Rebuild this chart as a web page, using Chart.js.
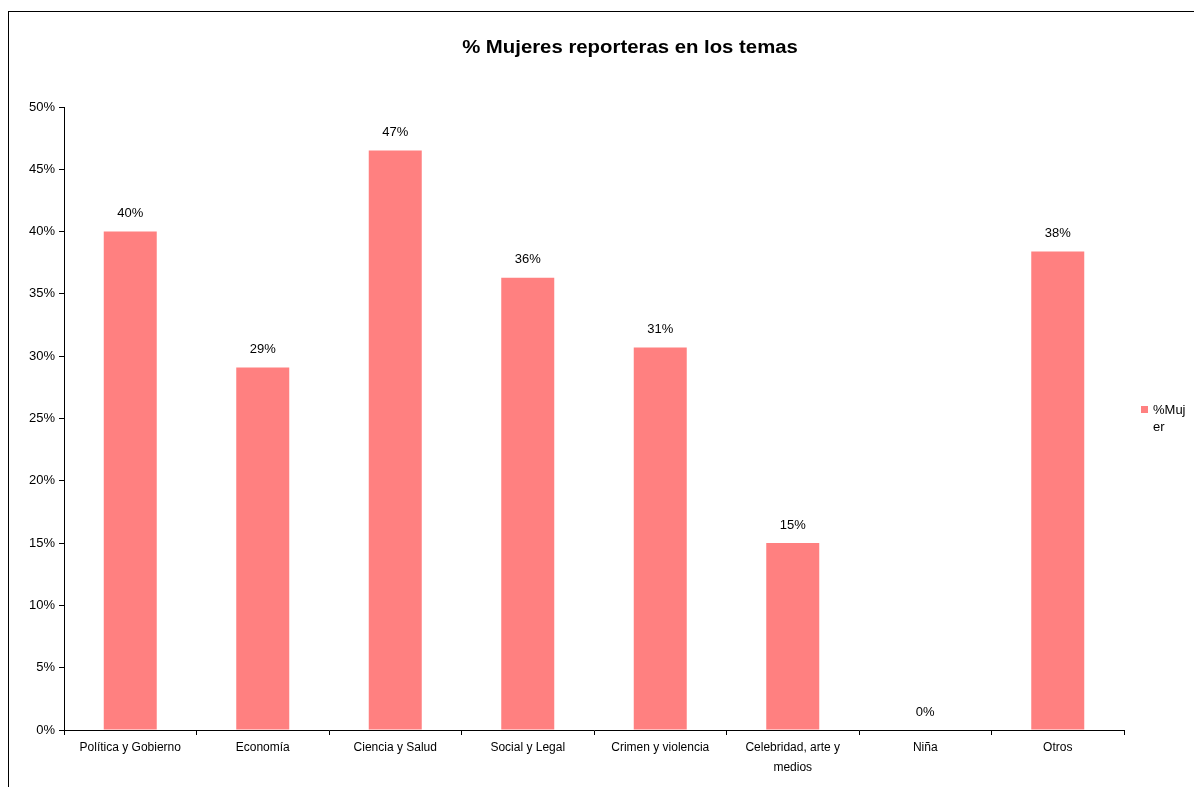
<!DOCTYPE html>
<html>
<head>
<meta charset="utf-8">
<script src="https://cdn.jsdelivr.net/npm/chart.js@4/dist/chart.umd.min.js"></script>
<style>
  html, body { margin: 0; padding: 0; background: #fff; overflow: hidden; }
  #wrap { position: relative; width: 1194px; height: 787px; }
  #frame { position: absolute; left: 8px; top: 11px; width: 1300px; height: 900px; border: 1px solid #000; }
  #myChart { position: absolute; left: 0; top: 0; }
  #legend { position: absolute; left: 1141px; top: 401px; font: 13px "Liberation Sans", Arial, sans-serif; color: #000; line-height: 17px; }
  #legend .box { position: absolute; left: 0; top: 5px; width: 7px; height: 7px; background: #FF8080; }
  #legend .txt { position: absolute; left: 12px; top: 0; width: 40px; }
</style>
</head>
<body>
<div id="wrap">
  <div id="frame"></div>
  <canvas id="myChart" width="1194" height="787"></canvas>
  <div id="legend"><span class="box"></span><span class="txt">%Muj<br>er</span></div>
</div>
<script>
var categories = ["Política y Gobierno", "Economía", "Ciencia y Salud", "Social y Legal",
  "Crimen y violencia", ["Celebridad, arte y", "medios"], "Niña", "Otros"];
var mujerPct = [40.0, 29.1, 46.5, 36.3, 30.7, 15.0, 0, 38.4];
var yTicks = [0, 5, 10, 15, 20, 25, 30, 35, 40, 45, 50];
var seriesName = "%Mujer";
var chartTitle = "% Mujeres reporteras en los temas";

(function() {
  "use strict";

  var FONT = '"Liberation Sans", Arial, sans-serif';

  // etiquetas de valor encima de cada barra
  var valueLabels = {
    id: "valueLabels",
    afterDatasetsDraw: function(chart) {
      var ctx = chart.ctx,
          meta = chart.getDatasetMeta(0);
      ctx.save();
      ctx.font = "13px " + FONT;
      ctx.fillStyle = "#000";
      ctx.textAlign = "center";
      ctx.textBaseline = "middle";
      meta.data.forEach(function(bar, i) {
        ctx.fillText(Math.round(mujerPct[i]) + "%", bar.x, bar.y - 18);
      });
      ctx.restore();
    }
  };

  // título centrado sobre todo el marco, letra algo ensanchada como en Excel
  var frameTitle = {
    id: "frameTitle",
    afterDraw: function(chart) {
      var ctx = chart.ctx;
      ctx.save();
      ctx.translate(630, 48);
      ctx.scale(1.13, 1);
      ctx.font = "bold 18px " + FONT;
      ctx.fillStyle = "#000";
      ctx.textAlign = "center";
      ctx.textBaseline = "middle";
      ctx.fillText(chartTitle, 0, 0);
      ctx.restore();
    }
  };

  var ctx = document.getElementById("myChart").getContext("2d");
  new Chart(ctx, {
    type: "bar",
    data: {
      labels: categories,
      datasets: [{
        label: seriesName,
        data: mujerPct,
        backgroundColor: "#FF8080",
        borderWidth: 0,
        barPercentage: 0.4,
        categoryPercentage: 1.0
      }]
    },
    options: {
      responsive: false,
      animation: false,
      layout: { padding: { left: 10, right: 70, top: 107, bottom: 0 } },
      plugins: {
        legend: { display: false },
        tooltip: { enabled: false },
        title: { display: false }
      },
      scales: {
        x: {
          grid: { display: true, drawOnChartArea: false, offset: true, tickLength: 5, tickColor: "#000" },
          border: { color: "#000", width: 1 },
          ticks: {
            color: "#000",
            font: { family: FONT, size: 12, lineHeight: 1.65 },
            maxRotation: 0,
            autoSkip: false,
            padding: 3
          },
          afterFit: function(scale) { scale.height = 57; }
        },
        y: {
          min: 0,
          max: 50,
          afterBuildTicks: function(scale) {
            scale.ticks = yTicks.map(function(v) { return { value: v }; });
          },
          grid: { display: true, drawOnChartArea: false, tickLength: 5, tickColor: "#000" },
          border: { color: "#000", width: 1 },
          ticks: {
            color: "#000",
            font: { family: FONT, size: 13 },
            padding: 4,
            callback: function(v) { return v + "%"; }
          },
          afterFit: function(scale) { scale.width = 54; }
        }
      }
    },
    plugins: [valueLabels, frameTitle]
  });
})();
</script>
</body>
</html>
